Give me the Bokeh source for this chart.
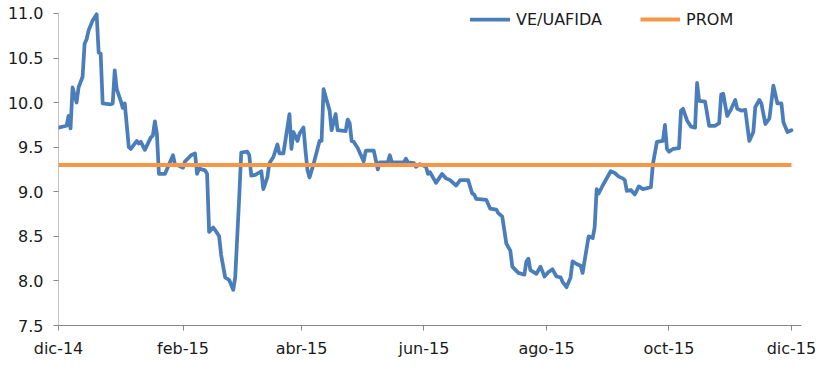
import pandas as pd
from bokeh.plotting import figure
from bokeh.models import FixedTicker, Legend, LegendItem, PrintfTickFormatter, Range1d
from bokeh.embed import file_html
from bokeh.resources import INLINE

# ---- data ----
START = "2014-12-01"
DAY = [0, 4, 5, 6, 7, 9, 10, 12, 13, 14,
       15, 17, 19, 20, 21, 22, 26, 27, 28, 29,
       31, 32, 33, 35, 36, 39, 40, 41, 43, 46,
       47, 48, 49, 50, 53, 57, 58, 60, 62, 63,
       66, 68, 69, 70, 73, 74, 75, 77, 78, 80,
       81, 83, 85, 87, 88, 90, 91, 94, 95, 96,
       98, 101, 102, 104, 105, 107, 109, 110, 112, 115,
       116, 117, 119, 120, 122, 123, 124, 125, 127, 130,
       131, 132, 135, 136, 138, 139, 143, 144, 145, 146,
       147, 149, 152, 153, 157, 159, 160, 164, 165, 166,
       172, 173, 174, 177, 178, 180, 183, 184, 185, 188,
       191, 193, 195, 198, 200, 204, 206, 207, 208, 213,
       215, 218, 219, 221, 223, 225, 226, 229, 232, 233,
       234, 235, 238, 240, 242, 244, 246, 248, 250, 251,
       253, 255, 256, 258, 260, 261, 264, 266, 267, 268,
       269, 271, 275, 277, 279, 281, 282, 283, 285, 287,
       289, 291, 295, 296, 298, 301, 302, 303, 304, 306,
       309, 310, 311, 313, 315, 317, 318, 319, 322, 324,
       327, 329, 330, 331, 333, 335, 337, 338, 340, 342,
       344, 346, 347, 349, 350, 352, 354, 356, 358, 360,
       361, 363, 365]
VE_UAFIDA = [9.72, 9.74, 9.85, 9.71, 10.17, 10.00, 10.17, 10.29, 10.66, 10.71,
             10.81, 10.92, 10.99, 10.56, 10.55, 9.99, 9.98, 9.99, 10.36, 10.15,
             10.02, 9.94, 9.99, 9.50, 9.48, 9.57, 9.54, 9.56, 9.47, 9.61,
             9.63, 9.79, 9.65, 9.20, 9.20, 9.41, 9.31, 9.29, 9.27, 9.34,
             9.41, 9.43, 9.20, 9.26, 9.24, 9.20, 8.55, 8.60, 8.57, 8.50,
             8.29, 8.04, 8.01, 7.90, 8.04, 8.94, 9.44, 9.45, 9.41, 9.18,
             9.19, 9.23, 9.03, 9.16, 9.32, 9.39, 9.53, 9.43, 9.43, 9.87,
             9.48, 9.67, 9.57, 9.65, 9.72, 9.46, 9.24, 9.16, 9.31, 9.57,
             9.57, 10.15, 9.91, 9.69, 9.87, 9.69, 9.68, 9.81, 9.77, 9.57,
             9.56, 9.49, 9.34, 9.46, 9.46, 9.25, 9.33, 9.33, 9.41, 9.33,
             9.33, 9.37, 9.33, 9.32, 9.28, 9.31, 9.28, 9.20, 9.22, 9.10,
             9.20, 9.15, 9.13, 9.07, 9.13, 9.13, 8.98, 8.97, 8.92, 8.91,
             8.81, 8.80, 8.76, 8.72, 8.42, 8.34, 8.16, 8.09, 8.07, 8.22,
             8.25, 8.12, 8.08, 8.16, 8.05, 8.10, 8.13, 8.05, 8.04, 7.99,
             7.93, 8.04, 8.22, 8.19, 8.17, 8.09, 8.50, 8.48, 8.60, 9.03,
             8.98, 9.07, 9.23, 9.21, 9.17, 9.15, 9.13, 9.01, 9.02, 8.97,
             9.06, 9.03, 9.05, 9.31, 9.56, 9.57, 9.75, 9.48, 9.45, 9.48,
             9.49, 9.91, 9.93, 9.80, 9.73, 9.72, 10.22, 10.02, 10.01, 9.74,
             9.74, 9.77, 10.09, 10.10, 9.85, 9.93, 10.03, 9.93, 9.91, 9.92,
             9.57, 9.67, 9.95, 10.03, 9.99, 9.76, 9.82, 10.19, 9.99, 9.99,
             9.78, 9.67, 9.69]
PROM = 9.30
PROM_DATES = ["2014-12-01", "2015-12-01"]
TICK_DATES = ["2014-12-01", "2015-02-01", "2015-04-01", "2015-06-01",
              "2015-08-01", "2015-10-01", "2015-12-01"]
TICK_LABELS = ["dic-14", "feb-15", "abr-15", "jun-15", "ago-15", "oct-15", "dic-15"]
X_END = "2015-12-06"
Y_TICKS = [7.5, 8.0, 8.5, 9.0, 9.5, 10.0, 10.5, 11.0]
Y_TOP = 11.10   # a little headroom above the last tick, for the legend

assert len(DAY) == len(VE_UAFIDA)

EPOCH = pd.Timestamp("1970-01-01")


def ms(d):
    return float((pd.Timestamp(d) - EPOCH) / pd.Timedelta(milliseconds=1))


dates = [pd.Timestamp(START) + pd.Timedelta(days=d) for d in DAY]

FONT = "DejaVu Sans"
FS = "16px"
AXIS_COLOR = "#868686"
TEXT_COLOR = "#1a1a1a"

p = figure(width=825, height=385, x_axis_type="datetime",
           output_backend="svg", toolbar_location=None,
           x_range=Range1d(ms(START), ms(X_END)),
           y_range=Range1d(Y_TICKS[0], Y_TOP),
           min_border_left=58, min_border_right=24,
           min_border_top=4, min_border_bottom=60)
p.outline_line_color = None
p.grid.visible = False
p.background_fill_color = "white"

# vertical axis line only from the first to the last tick
p.segment(x0=[ms(START)], x1=[ms(START)], y0=[Y_TICKS[0]], y1=[Y_TICKS[-1]],
          line_color=AXIS_COLOR, line_width=1)

r1 = p.line(dates, VE_UAFIDA, line_color="#4A7EBB", line_width=3.75,
            line_join="round", line_cap="round")
r2 = p.line([pd.Timestamp(d) for d in PROM_DATES], [PROM, PROM],
            line_color="#F79646", line_width=4)

tick_ms = [ms(d) for d in TICK_DATES]
p.xaxis.ticker = FixedTicker(ticks=tick_ms)
p.xaxis.major_label_overrides = {t: lab for t, lab in zip(tick_ms, TICK_LABELS)}
p.yaxis.ticker = FixedTicker(ticks=Y_TICKS)
p.yaxis.formatter = PrintfTickFormatter(format="%.1f")

for ax in (p.xaxis[0], p.yaxis[0]):
    ax.axis_line_color = AXIS_COLOR
    ax.major_tick_line_color = AXIS_COLOR
    ax.minor_tick_line_color = None
    ax.major_tick_out = 5
    ax.major_tick_in = 0
    ax.major_label_text_font = FONT
    ax.major_label_text_font_size = FS
    ax.major_label_text_color = TEXT_COLOR
p.yaxis.axis_line_color = None
p.xaxis.major_label_standoff = 8
p.yaxis.major_label_standoff = 10

legend = Legend(items=[LegendItem(label="VE/UAFIDA", renderers=[r1]),
                       LegendItem(label="PROM", renderers=[r2])],
                orientation="horizontal", location=(412, 296),
                glyph_width=40, glyph_height=20,
                label_standoff=6, spacing=38,
                padding=0, margin=0,
                label_text_font=FONT, label_text_font_size=FS,
                label_text_color=TEXT_COLOR,
                background_fill_alpha=0, border_line_color=None)
p.add_layout(legend)

open("out.html", "w").write(file_html(p, INLINE))
